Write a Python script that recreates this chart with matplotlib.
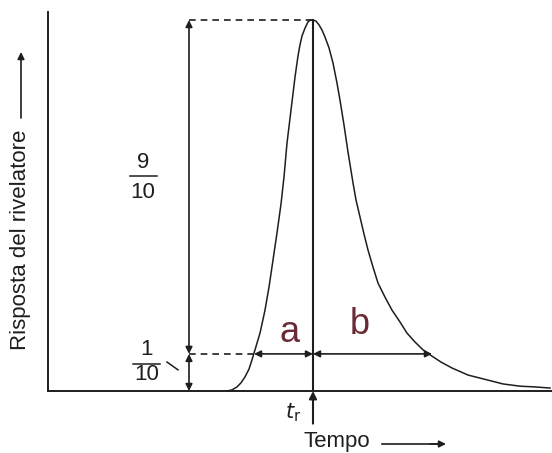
import numpy as np
import matplotlib.pyplot as plt

plt.rcParams['font.family'] = ['Liberation Sans', 'DejaVu Sans']

# peak (time in arbitrary units, response normalised to peak = 1)
time = [179, 184, 189, 193, 197, 201, 204, 207, 212, 217, 221, 225, 229, 233,
        236, 239, 243, 247, 250, 252, 254, 257, 260, 262, 265,
        268, 271, 274, 277, 281, 285, 289, 292, 296, 300, 305, 308, 312, 316,
        320, 325, 330, 337, 344, 352, 359, 367, 375, 384, 393, 404, 420, 439,
        455, 472, 487, 502]
response = [0.0, 0.003, 0.011, 0.022, 0.038, 0.059, 0.084, 0.111, 0.156, 0.218,
            0.280, 0.353, 0.426, 0.504, 0.577, 0.668, 0.757, 0.846, 0.903, 0.933,
            0.957, 0.978, 0.995, 0.999, 1.0,
            0.997, 0.987, 0.973, 0.954, 0.925, 0.884, 0.830, 0.784, 0.717, 0.644,
            0.561, 0.515, 0.469, 0.423, 0.380, 0.334, 0.291, 0.253, 0.218, 0.186,
            0.156, 0.132, 0.111, 0.094, 0.078, 0.062, 0.043, 0.030, 0.019, 0.013,
            0.011, 0.008]

t_r = 265        # retention time
level = 0.1      # 1/10 of peak height
a_start = 206    # left flank at 1/10 height
b_end = 384      # right flank at 1/10 height
x_dim = 141      # where the height arrows are drawn

ink = '#1e1e1e'
hand = '#6a2a35'

fig = plt.figure(figsize=(5.52, 4.53), dpi=100)
ax = fig.add_axes([48/552, 62/453, 504/552, 379/453])
ax.set_xlim(0, 504)
ax.set_ylim(0, 379/371)
for s in ['top', 'right']:
    ax.spines[s].set_visible(False)
for s in ['left', 'bottom']:
    ax.spines[s].set_color(ink)
    ax.spines[s].set_linewidth(1.4)
ax.set_xticks([])
ax.set_yticks([])

ax.plot(time, response, color=ink, lw=1.1, solid_joinstyle='round', clip_on=False)

# retention time line, through the baseline
ax.plot([t_r, t_r], [0, 1.0], color=ink, lw=1.5)
ax.annotate('', xy=(t_r, 0), xytext=(t_r, -0.088), annotation_clip=False,
            arrowprops=dict(arrowstyle='-|>', color=ink, lw=1.5, mutation_scale=11,
                            shrinkA=0, shrinkB=0))

# dashed guides
dash = (0, (4, 3))
ax.plot([x_dim, t_r], [1.0, 1.0], color=ink, lw=1.2, linestyle=dash)
ax.plot([x_dim, a_start], [level, level], color=ink, lw=1.2, linestyle=dash)

arr = dict(arrowstyle='<|-|>', color=ink, lw=1.2, mutation_scale=10, shrinkA=0, shrinkB=0)
ax.annotate('', xy=(x_dim, 1.0), xytext=(x_dim, level), arrowprops=arr)
ax.annotate('', xy=(x_dim, level), xytext=(x_dim, 0), arrowprops=arr)
ax.annotate('', xy=(a_start, level), xytext=(t_r, level), arrowprops=arr)
ax.annotate('', xy=(t_r, level), xytext=(b_end, level), arrowprops=arr)

# fractions
ax.text(95, 0.615, '9', ha='center', va='center', fontsize=16, color=ink)
ax.plot([82, 109], [0.58, 0.58], color=ink, lw=1.1)
ax.text(95, 0.536, '10', ha='center', va='center', fontsize=16, color=ink)
ax.text(99, 0.111, '1', ha='center', va='center', fontsize=16, color=ink)
ax.plot([85, 112], [0.072, 0.072], color=ink, lw=1.1)
ax.text(99, 0.044, '10', ha='center', va='center', fontsize=16, color=ink)
ax.plot([119, 130], [0.078, 0.057], color=ink, lw=1.1)

# handwritten a, b
ax.text(242, 0.158, 'a', ha='center', va='center', fontsize=26, color=hand)
ax.text(312, 0.180, 'b', ha='center', va='center', fontsize=26, color=hand)

ax.text(t_r - 20, -0.058, r'$t_{\rm r}$', ha='center', va='center', fontsize=15,
        color=ink, clip_on=False)

# axis labels with arrows
fig.text(337/552, 1 - 442/453, 'Tempo', ha='center', va='center', fontsize=16, color=ink)
fig.add_artist(plt.Line2D([382/552, 440/552], [1 - 444/453, 1 - 444/453], color=ink, lw=1.2))
ax.annotate('', xy=(446/552, 1 - 444/453), xytext=(430/552, 1 - 444/453),
            xycoords='figure fraction', textcoords='figure fraction',
            arrowprops=dict(arrowstyle='-|>', color=ink, lw=1.2, mutation_scale=10,
                            shrinkA=0, shrinkB=0))

fig.text(21/552, 1 - 240/453, 'Risposta del rivelatore', rotation=90, ha='center',
         va='center', fontsize=16, color=ink)
ax.annotate('', xy=(21/552, 1 - 52/453), xytext=(21/552, 1 - 118/453),
            xycoords='figure fraction', textcoords='figure fraction',
            arrowprops=dict(arrowstyle='-|>', color=ink, lw=1.2, mutation_scale=10,
                            shrinkA=0, shrinkB=0))

fig.savefig('out.png', dpi=100, facecolor='white')
